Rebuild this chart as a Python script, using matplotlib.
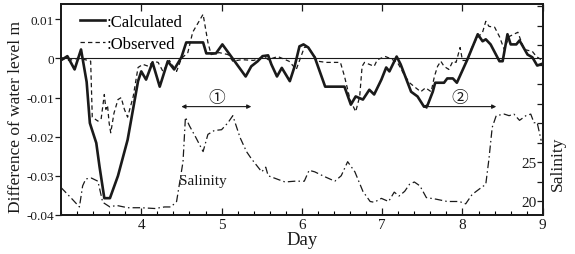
import matplotlib
matplotlib.use("Agg")
import matplotlib.pyplot as plt
from matplotlib.ticker import FixedLocator, MultipleLocator, FuncFormatter

# water level difference, calculated (m)
calc_day = [3.02, 3.08, 3.17, 3.25, 3.32, 3.36, 3.38, 3.44, 3.48, 3.54, 3.61, 3.71, 3.83,
            3.96, 4.00, 4.06, 4.14, 4.23, 4.33, 4.41, 4.50, 4.56, 4.77, 4.81, 4.93, 5.01,
            5.12, 5.30, 5.37, 5.45, 5.51, 5.58, 5.62, 5.69, 5.75, 5.85, 5.91, 5.97, 6.02,
            6.08, 6.16, 6.29, 6.53, 6.61, 6.67, 6.76, 6.84, 6.90, 6.99, 7.05, 7.09, 7.18,
            7.23, 7.36, 7.44, 7.52, 7.56, 7.63, 7.66, 7.77, 7.81, 7.88, 7.93, 8.06, 8.19,
            8.25, 8.29, 8.35, 8.46, 8.50, 8.56, 8.60, 8.67, 8.71, 8.81, 8.87, 8.93, 9.00]
calc_val = [-0.0002, 0.0006, -0.0028, 0.0023, -0.006, -0.0165, -0.0178, -0.0216, -0.0276,
            -0.0357, -0.0357, -0.030, -0.0208, -0.0058, -0.0033, -0.0054, -0.001, -0.0072,
            -0.0007, -0.0028, 0.0003, 0.0041, 0.0041, 0.0013, 0.0013, 0.0036, 0.0005,
            -0.0046, -0.002, -0.0007, 0.0006, 0.0008, -0.0015, -0.0046, -0.0024, -0.0058,
            -0.002, 0.0031, 0.0036, 0.0028, 0.0003, -0.0072, -0.0072, -0.0118, -0.0097,
            -0.0105, -0.008, -0.0092, -0.0054, -0.0023, -0.0033, 0.0005, -0.0015, -0.0085,
            -0.0097, -0.0123, -0.0122, -0.0085, -0.0062, -0.0062, -0.0051, -0.0051, -0.0062,
            -0.0003, 0.0062, 0.0044, 0.0049, 0.0036, -0.0007, -0.0007, 0.0062, 0.0036,
            0.0036, 0.0046, 0.001, 0.0003, -0.0018, -0.0013]

# water level difference, observed (m)
obs_day = [3.00, 3.10, 3.20, 3.30, 3.37, 3.39, 3.46, 3.50, 3.54, 3.56, 3.58, 3.60, 3.62,
           3.66, 3.71, 3.75, 3.79, 3.83, 3.90, 3.96, 4.02, 4.09, 4.15, 4.21, 4.27, 4.35,
           4.44, 4.50, 4.58, 4.64, 4.77, 4.83, 4.87, 4.97, 5.08, 5.14, 5.25, 5.40, 5.53,
           5.58, 5.70, 5.84, 5.93, 6.03, 6.07, 6.20, 6.30, 6.48, 6.53, 6.60, 6.67, 6.72,
           6.75, 6.78, 6.90, 6.94, 7.04, 7.10, 7.19, 7.27, 7.34, 7.40, 7.48, 7.54, 7.61,
           7.65, 7.69, 7.73, 7.77, 7.83, 7.88, 7.92, 7.97, 8.00, 8.06, 8.12, 8.19, 8.25,
           8.29, 8.33, 8.40, 8.46, 8.52, 8.58, 8.69, 8.73, 8.77, 8.87, 8.92, 8.98]
obs_val = [0.0003, -0.0005, 0.0, -0.0003, -0.0007, -0.015, -0.016, -0.0155, -0.0092, -0.013,
           -0.012, -0.0165, -0.019, -0.014, -0.0105, -0.010, -0.013, -0.015, -0.0097,
           -0.0023, -0.0015, -0.002, -0.0007, -0.001, -0.0033, -0.0005, -0.0033, 0.0,
           0.0015, 0.0067, 0.0113, 0.0041, 0.001, 0.0015, 0.001, -0.0007, -0.0003, -0.0005,
           0.0005, -0.0003, 0.0005, -0.0007, -0.0028, 0.0028, 0.003, -0.0007, -0.001,
           -0.001, -0.0045, -0.0105, -0.0136, -0.0097, -0.002, -0.001, -0.002, -0.0003,
           0.0005, 0.0, -0.001, -0.004, -0.0062, -0.0072, -0.0085, -0.0075, -0.0085,
           -0.0046, -0.002, -0.0007, -0.002, -0.0028, -0.0007, -0.001, 0.0028, -0.0005,
           -0.0005, 0.0031, 0.0054, 0.0067, 0.0095, 0.0082, 0.008, 0.0056, 0.0023, 0.0056,
           0.0067, 0.0044, 0.0023, 0.0018, 0.0005, -0.0003]

# salinity
sal_day = [3.00, 3.14, 3.23, 3.27, 3.31, 3.38, 3.46, 3.52, 3.61, 3.69, 3.83, 4.00, 4.17,
           4.29, 4.37, 4.44, 4.52, 4.55, 4.60, 4.68, 4.77, 4.83, 4.91, 5.00, 5.08, 5.14,
           5.23, 5.31, 5.37, 5.50, 5.55, 5.58, 5.71, 5.79, 5.91, 6.03, 6.09, 6.16, 6.28,
           6.41, 6.49, 6.57, 6.66, 6.76, 6.85, 6.90, 6.99, 7.08, 7.15, 7.21, 7.28, 7.34,
           7.40, 7.47, 7.55, 7.67, 7.81, 7.96, 8.04, 8.12, 8.21, 8.29, 8.33, 8.37, 8.42,
           8.52, 8.58, 8.64, 8.71, 8.79, 8.85, 8.89, 8.93, 8.98]
sal_val = [21.8, 20.3, 19.3, 22.0, 22.9, 23.0, 22.6, 19.9, 19.3, 19.5, 19.2, 19.2, 19.1,
           19.3, 19.3, 20.0, 25.1, 30.8, 29.7, 28.2, 26.4, 28.6, 29.1, 29.2, 30.1, 31.0,
           28.2, 26.4, 25.5, 23.8, 24.4, 23.3, 22.8, 22.5, 22.6, 22.6, 24.0, 23.8, 23.2,
           22.6, 23.3, 25.1, 23.8, 21.3, 20.0, 19.9, 20.4, 20.0, 21.2, 20.7, 21.3, 22.2,
           22.5, 22.0, 20.5, 20.3, 20.0, 20.0, 19.7, 20.9, 21.6, 22.2, 25.5, 29.5, 31.0,
           31.2, 31.0, 31.2, 30.4, 31.0, 31.2, 30.1, 30.1, 27.8]

# marked periods (start day, end day, label)
periods = [(4.50, 5.37, "\u2460"), (7.50, 8.42, "\u2461")]

plt.rcParams["font.family"] = ["Liberation Serif", "Noto Sans CJK JP", "DejaVu Sans"]
ink = "#1a1a1a"

fig = plt.figure(figsize=(5.75, 2.55), dpi=100)
ax = fig.add_axes([0.106, 0.153, 0.838, 0.827])

ax.axhline(0, color=ink, lw=0.8)
ax.plot(calc_day, calc_val, color=ink, lw=1.9, label=":Calculated")
ax.plot(obs_day, obs_val, color=ink, lw=0.9, dashes=(3.5, 2.5), label=":Observed")

ax.set_xlim(3, 9)
ax.set_ylim(-0.04, 0.0139)
ax.set_xticks([4, 5, 6, 7, 8, 9])
ax.xaxis.set_minor_locator(MultipleLocator(0.2))
ax.set_yticks([0.01, 0, -0.01, -0.02, -0.03, -0.04])
ax.yaxis.set_major_formatter(FuncFormatter(lambda v, p: "0" if abs(v) < 1e-9 else ("%.2f" % v)))
ax.tick_params(axis="x", which="major", direction="in", length=5, width=0.9,
               top=True, labelsize=11, pad=2, colors=ink)
ax.tick_params(axis="x", which="minor", direction="in", length=3, width=0.8, top=False)
ax.tick_params(axis="y", direction="out", length=4, width=0.9, labelsize=9.5, pad=1, colors=ink)
for s in ax.spines.values():
    s.set_linewidth(1.3)
    s.set_color(ink)

ax.set_xlabel("Day", fontsize=13.5, labelpad=0, color=ink)
ax.set_ylabel("Difference of water level m", fontsize=12.5, color=ink)
ax.yaxis.set_label_coords(-0.077, 0.47)

leg = ax.legend(loc="upper left", bbox_to_anchor=(0.025, 0.985), frameon=False,
                fontsize=12, handlelength=1.5, handletextpad=0.1, labelspacing=0.35,
                borderaxespad=0)

for d0, d1, lab in periods:
    ax.annotate("", xy=(d1, -0.0123), xytext=(d0, -0.0123),
                arrowprops=dict(arrowstyle="<|-|>", lw=0.8, color=ink,
                                mutation_scale=6, shrinkA=0, shrinkB=0))
    ax.text((d0 + d1) / 2, -0.0122, lab, ha="center", va="bottom", fontsize=12, color=ink)

ax.text(4.47, -0.0313, "Salinity", fontsize=11, va="center", ha="left", color=ink)

ax2 = ax.twinx()
ax2.plot(sal_day, sal_val, color=ink, lw=0.9, dashes=(6, 2.5, 1.2, 2.5))
ax2.set_ylim(18.27, 45.3)
ax2.yaxis.set_major_locator(FixedLocator([20, 25]))
ax2.yaxis.set_minor_locator(FixedLocator([22.5, 27.5, 30, 32.5, 35, 37.5, 40, 42.5, 45]))
ax2.tick_params(axis="y", which="both", direction="in", length=4, width=0.9,
                labelsize=11, pad=-4.5, colors=ink)
for t in ax2.get_yticklabels():
    t.set_horizontalalignment("right")
ax2.set_ylabel("Salinity", fontsize=12.5, color=ink)
ax2.yaxis.set_label_coords(1.014, 0.25)
ax2.set_xlim(3, 9)
for s in ax2.spines.values():
    s.set_linewidth(1.3)
    s.set_color(ink)

fig.savefig("out.png", dpi=100)
